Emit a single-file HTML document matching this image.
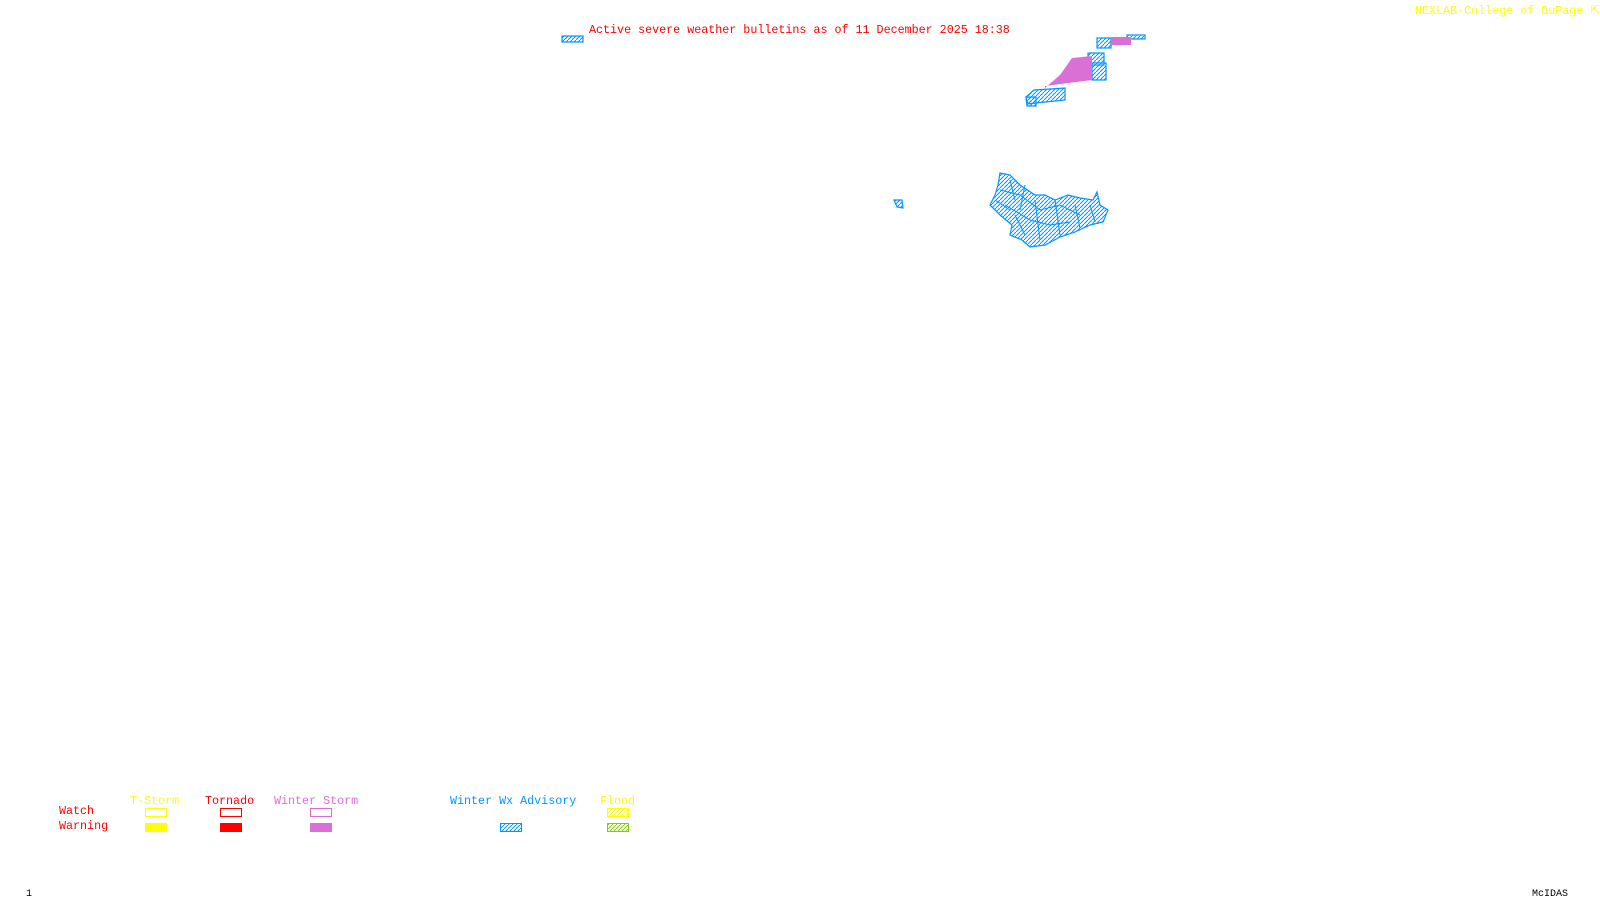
<!DOCTYPE html>
<html><head><meta charset="utf-8"><style>
html,body{margin:0;padding:0;background:#fff;}
body{width:1600px;height:900px;position:relative;overflow:hidden;font-family:"Liberation Mono",monospace;}
.t{position:absolute;font-size:11.7px;line-height:12px;white-space:pre;}
</style></head><body>
<svg width="1600" height="900" style="position:absolute;left:0;top:0">
<defs>
<pattern id="hb" width="4" height="4" patternUnits="userSpaceOnUse"><path d="M-1,5 L5,-1" stroke="#0096ff" stroke-width="1"/></pattern>
<pattern id="hy" width="4" height="4" patternUnits="userSpaceOnUse"><path d="M-1,5 L5,-1" stroke="#ffff00" stroke-width="1"/></pattern>
<pattern id="hg" width="4" height="4" patternUnits="userSpaceOnUse"><path d="M-1,5 L5,-1" stroke="#7fd000" stroke-width="1"/></pattern>
</defs>
<g stroke="#0096ff" stroke-width="1.2" fill="url(#hb)">
<rect x="562" y="36" width="21" height="6"/>
<rect x="1097" y="38" width="14" height="10"/>
<rect x="1127" y="35" width="18" height="4"/>
<rect x="1088" y="53" width="16" height="12"/>
<rect x="1092" y="63" width="14" height="17"/>
<polygon points="1034,90 1065,88 1065,100 1036,103 1028,104 1026,97"/>
<polygon points="1026,97 1036,97 1036,106 1027,106"/>
<polygon points="1000,173 1010,175 1020,185 1035,195 1045,195 1055,200 1068,195 1080,198 1093,200 1097,192 1100,205 1108,210 1103,222 1090,225 1075,232 1060,237 1045,245 1030,247 1022,240 1010,235 1012,225 1000,215 990,205 995,195 998,185"/>
<polygon points="894,200 902,200 903,208 897,207"/>
</g>
<g stroke="#0096ff" stroke-width="1" fill="none">
<path d="M1000,190 L1020,195 L1040,210 L1060,205 L1080,215 M1005,205 L1030,220 L1050,225 L1070,222 M1015,215 L1025,235 M1035,200 L1040,240 M1055,200 L1060,235 M1075,205 L1080,228 M1010,180 L1015,200 M1025,185 L1020,210 M995,200 L1010,210 M1090,205 L1095,222"/>
</g>
<polygon points="1045,88 1060,75 1072,58 1092,56 1092,80 1045,86" fill="#da70d6"/>
<rect x="1111" y="37" width="20" height="8" fill="#da70d6"/>
<g transform="translate(0,-7)">
<rect x="145.5" y="815.5" width="21" height="8" fill="none" stroke="#ffff00"/>
<rect x="145" y="830" width="22" height="9" fill="#ffff00"/>
<rect x="220.5" y="815.5" width="21" height="8" fill="none" stroke="#ff0000"/>
<rect x="220" y="830" width="22" height="9" fill="#ff0000"/>
<rect x="310.5" y="815.5" width="21" height="8" fill="none" stroke="#da70d6"/>
<rect x="310" y="830" width="22" height="9" fill="#da70d6"/>
<rect x="500.5" y="830.5" width="21" height="8" fill="url(#hb)" stroke="#0096ff"/>
<rect x="607.5" y="815.5" width="21" height="8" fill="url(#hy)" stroke="#ffff00"/>
<rect x="607.5" y="830.5" width="21" height="8" fill="url(#hg)" stroke="#7fd000"/>
</g>
</svg>
<div class="t" style="left:589px;top:24px;color:#ff0000">Active severe weather bulletins as of 11 December 2025 18:38</div>
<div class="t" style="left:1415px;top:5px;color:#ffff00">NEXLAB-College of DuPage ⇱</div>
<div class="t" style="left:130px;top:795px;color:#ffff00">T-Storm</div>
<div class="t" style="left:205px;top:795px;color:#ff0000">Tornado</div>
<div class="t" style="left:274px;top:795px;color:#da70d6">Winter Storm</div>
<div class="t" style="left:450px;top:795px;color:#0096ff">Winter Wx Advisory</div>
<div class="t" style="left:600px;top:795px;color:#ffff00">Flood</div>
<div class="t" style="left:59px;top:805px;color:#ff0000">Watch</div>
<div class="t" style="left:59px;top:820px;color:#ff0000">Warning</div>
<div class="t" style="left:26px;top:889px;color:#000;font-size:10px">1</div>
<div class="t" style="left:1532px;top:889px;color:#000;font-size:10px">McIDAS</div>
</body></html>
